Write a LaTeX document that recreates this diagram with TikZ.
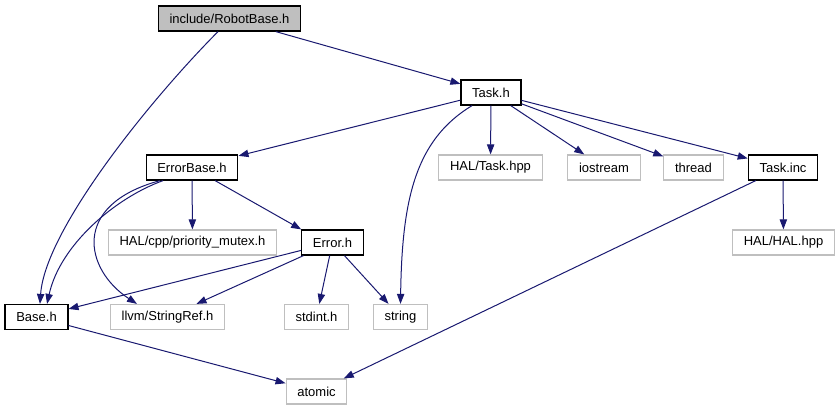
\documentclass[tikz,border=0pt]{standalone}
\usepackage{fontspec}
\setmainfont{Liberation Sans}
\usetikzlibrary{arrows.meta}
\definecolor{cedge}{HTML}{191970}
\definecolor{cgrey}{HTML}{BFBFBF}
\tikzset{
  every picture/.style={font=\fontsize{9.75}{11}\selectfont},
  file/.style={draw=black, fill=white, line width=0.9pt, inner xsep=8.4pt, inner ysep=0pt, minimum height=18.75pt},
  sysfile/.style={file, draw=cgrey},
  rootfile/.style={file, fill=cgrey},
  dep/.style={-{Triangle[length=7.5pt,width=5.5pt]}, draw=cedge, line width=0.75pt},
}

\begin{document}
\begin{tikzpicture}[x=0.75pt, y=-0.75pt]
  \useasboundingbox (0,0) rectangle (840,411);
  % row 1 and 2
  \node[rootfile] (robot) at (229.5,18.5) {include/RobotBase.h};
  \node[file] (task) at (491,92.5) {Task.h};
  % row 3
  \node[file] (errbase) at (192,167.5) {ErrorBase.h};
  \node[sysfile] (haltask) at (490.5,167.5) {HAL/Task.hpp};
  \node[sysfile] (iostream) at (604,167.5) {iostream};
  \node[sysfile] (thread) at (693.5,167.5) {thread};
  \node[file] (taskinc) at (783,167.5) {Task.inc};
  % row 4
  \node[sysfile] (mutex) at (192.5,242.5) {HAL/cpp/priority\_mutex.h};
  \node[file] (error) at (332.5,242.5) {Error.h};
  \node[sysfile] (halhal) at (783.5,242.5) {HAL/HAL.hpp};
  % row 5 and 6
  \node[file] (base) at (36.5,317) {Base.h};
  \node[sysfile] (stringref) at (167.5,317) {llvm/StringRef.h};
  \node[sysfile] (stdint) at (316.5,317) {stdint.h};
  \node[sysfile] (string) at (400.5,317) {string};
  \node[sysfile] (atomic) at (316.5,391.5) {atomic};
  % edges
  \draw[dep] (robot) -- (task);
  \draw[dep] ([xshift=-8.6pt]robot.south) .. controls (150,100) and (45,230) .. ([xshift=2.6pt]base.north);
  \draw[dep] (task) -- (errbase);
  \draw[dep] ([xshift=-14.2pt]task.south) .. controls (415,140) and (402,200) .. (string.north);
  \foreach \t in {haltask, iostream, thread, taskinc}
    \draw[dep] (task) -- (\t);
  \draw[dep] ([xshift=-21.7pt]errbase.south) .. controls (115,198) and (60,245) .. ([xshift=7.9pt]base.north);
  \draw[dep] ([xshift=-24pt]errbase.south) .. controls (70,205) and (85,270) .. ([xshift=-22.9pt]stringref.north);
  \draw[dep] (errbase) -- (mutex);
  \draw[dep] (errbase) -- (error.north west);
  \foreach \t in {base, stringref, stdint, string}
    \draw[dep] (error) -- (\t);
  \draw[dep] (taskinc) -- (halhal);
  \draw[dep] (taskinc) -- (atomic);
  \draw[dep] (base) -- (atomic);
\end{tikzpicture}
\end{document}
